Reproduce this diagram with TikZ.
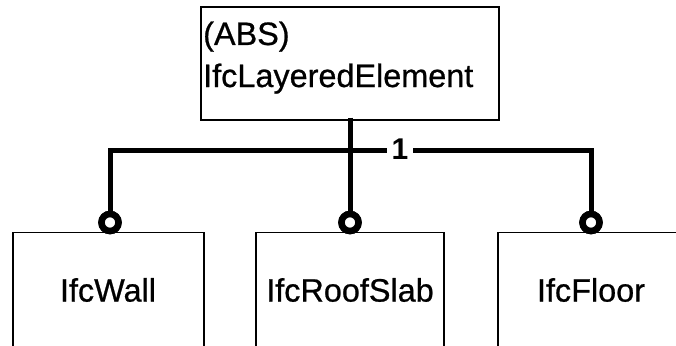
\documentclass[tikz,border=0pt]{standalone}
\usepackage{fontspec}
\setmainfont{Liberation Sans}
\newfontfamily\heavyfont{Liberation Sans}[FakeBold=0.7]
\begin{document}
\begin{tikzpicture}[x=1pt,y=-1pt,
  box/.style={draw=black,line width=1.2pt,rectangle,inner sep=0pt},
  lbl/.style={font=\heavyfont\fontsize{32.4}{38}\selectfont,inner sep=0pt},
  bus/.style={draw=black,line width=5pt},
  ring/.style={circle,draw=black,line width=6.5pt,minimum size=17pt,inner sep=0pt,fill=white},
  mult/.style={font=\bfseries\fontsize{30}{34}\selectfont,inner sep=0pt}]
\useasboundingbox (0,0) rectangle (676,345);
\clip (0,0) rectangle (676,345);
% parent box
\node[box,minimum width=298pt,minimum height=113pt] (top) at (350,63.5) {};
\node[lbl,anchor=base west] (abs) at (203,45) {(ABS)};
\node[lbl,anchor=base west] (lay) at (203,87) {IfcLayeredElement};
% child boxes (bottom edges run off the picture)
\node[box,minimum width=191pt,minimum height=160pt,anchor=north] (w) at (108.5,232) {};
\node[box,minimum width=188pt,minimum height=160pt,anchor=north] (r) at (350,232) {};
\node[box,minimum width=190pt,minimum height=160pt,anchor=north] (f) at (593,232) {};
\node[lbl] (wt) at (108,290) {IfcWall};
\node[lbl] (rt) at (350,290) {IfcRoofSlab};
\node[lbl] (ft) at (591,290) {IfcFloor};
% multiplicity label
\node[mult,minimum width=26pt] (one) at (400,149) {1};
% rings
\node[ring] (cw) at (110,222.5) {};
\node[ring] (cr) at (350,222.5) {};
\node[ring] (cf) at (591,222.5) {};
% connectors
\draw[bus] ([yshift=3pt]top.south) -- (cr.north);
\draw[bus] (cw.north) |- ([yshift=-1pt]one.west);
\draw[bus] (cf.north) |- ([yshift=-1pt]one.east);
\node[ring] at (cw) {};
\node[ring] at (cr) {};
\node[ring] at (cf) {};
\end{tikzpicture}
\end{document}
